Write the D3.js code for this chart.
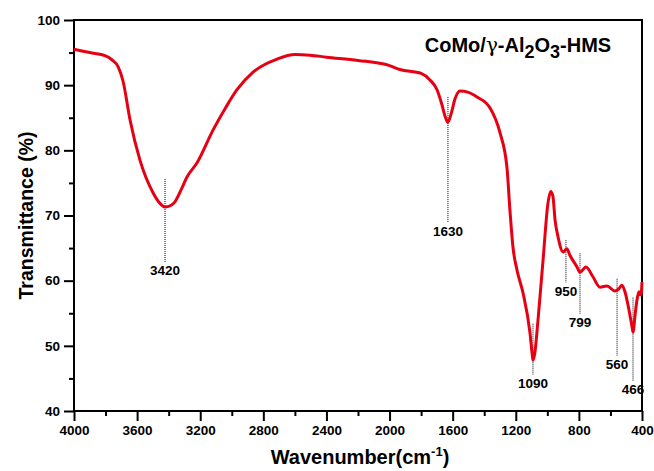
<!DOCTYPE html>
<html>
<head>
<meta charset="utf-8">
<script src="https://cdn.jsdelivr.net/npm/d3@7"></script>
<style>
  body { margin: 0; background: #fff; }
  text { font-family: "Liberation Sans", Arial, sans-serif; font-weight: bold; fill: #000; }
</style>
</head>
<body>
<div id="chart"></div>
<script>
// spectrum (wavenumber, transmittance)
const wavenumber = [4000, 3900, 3800, 3760, 3720, 3689, 3645, 3582, 3499, 3460, 3423, 3390, 3360, 3320, 3284, 3220, 3119, 3040, 2967, 2865, 2713, 2600, 2504, 2400, 2200, 2000, 1934, 1800, 1744, 1699, 1668, 1645, 1630, 1610, 1585, 1554, 1500, 1446, 1363, 1300, 1256, 1237, 1218, 1192, 1154, 1110, 1095, 1091, 1080, 1059, 1027, 996, 979, 965, 951, 932, 900, 876, 857, 812, 793, 755, 711, 666, 622, 571, 545, 527, 508, 489, 463, 457, 444, 432, 419, 406, 400];
const transmittance = [95.5, 95.0, 94.5, 93.9, 92.8, 90.6, 84.7, 78.5, 73.5, 72.0, 71.3, 71.5, 72.1, 74.0, 75.9, 78.1, 83.1, 86.5, 89.3, 92.0, 94.0, 94.7, 94.6, 94.3, 93.8, 93.0, 92.4, 91.8, 90.8, 89.3, 87.0, 85.0, 84.3, 85.6, 87.9, 89.1, 88.9, 88.2, 86.5, 82.7, 77.4, 70.8, 65.2, 61.6, 58.1, 52.0, 48.5, 47.8, 48.8, 54.0, 63.2, 71.9, 73.7, 73.0, 69.3, 66.7, 64.4, 64.9, 63.9, 62.1, 61.3, 62.1, 60.6, 59.0, 59.2, 58.4, 58.8, 59.3, 58.3, 56.3, 52.9, 52.1, 54.7, 57.0, 58.3, 57.8, 59.8];

// peak labels: where each dotted line is drawn, its top/bottom and the text
const peakLabels = ["3420", "1630", "1090", "950", "799", "560", "466"];
const peakX = [3423, 1630, 1091, 882, 793, 558, 457];
const peakTop = [75.6, 88.2, 53.4, 66.2, 64.2, 60.3, 57.4];
const peakBottom = [62.8, 68.9, 45.6, 59.7, 54.9, 48.5, 44.6];

const xTicks = [4000, 3600, 3200, 2800, 2400, 2000, 1600, 1200, 800, 400];
const yTicks = [40, 50, 60, 70, 80, 90, 100];

const width = 654, height = 471;
const margin = { left: 74, right: 12, top: 20, bottom: 60 };
const tickFont = "13.5px";

const svg = d3.select("#chart").append("svg")
    .attr("width", width)
    .attr("height", height);

const x = d3.scaleLinear()
    .domain([4000, 400])
    .range([margin.left, width - margin.right]);

const y = d3.scaleLinear()
    .domain([40, 100])
    .range([height - margin.bottom, margin.top]);

const data = wavenumber.map((w, i) => ({ w: w, t: transmittance[i] }));

// frame
svg.append("rect")
    .attr("x", x(4000))
    .attr("y", y(100))
    .attr("width", x(400) - x(4000))
    .attr("height", y(40) - y(100))
    .attr("fill", "none")
    .attr("stroke", "#000")
    .attr("stroke-width", 2);

// minor ticks
svg.append("g")
    .attr("transform", `translate(0,${y(40)})`)
    .call(d3.axisBottom(x).tickValues(d3.range(3800, 400, -400)).tickSize(5).tickFormat(""))
    .call(g => g.select(".domain").remove())
    .call(g => g.selectAll("line").attr("stroke-width", 2));

svg.append("g")
    .attr("transform", `translate(${x(4000)},0)`)
    .call(d3.axisLeft(y).tickValues(d3.range(45, 100, 10)).tickSize(5).tickFormat(""))
    .call(g => g.select(".domain").remove())
    .call(g => g.selectAll("line").attr("stroke-width", 2));

// major ticks
svg.append("g")
    .attr("transform", `translate(0,${y(40)})`)
    .call(d3.axisBottom(x).tickValues(xTicks).tickSize(10).tickPadding(4).tickFormat(d3.format("d")))
    .call(g => g.select(".domain").remove())
    .call(g => g.selectAll("line").attr("stroke-width", 2))
    .call(g => g.selectAll("text").style("font-size", tickFont).style("font-family", "Liberation Sans, Arial, sans-serif").style("font-weight", "bold"));

svg.append("g")
    .attr("transform", `translate(${x(4000)},0)`)
    .call(d3.axisLeft(y).tickValues(yTicks).tickSize(10).tickPadding(4))
    .call(g => g.select(".domain").remove())
    .call(g => g.selectAll("line").attr("stroke-width", 2))
    .call(g => g.selectAll("text").style("font-size", tickFont).style("font-family", "Liberation Sans, Arial, sans-serif").style("font-weight", "bold"));

// dotted peak markers
svg.selectAll(".peak")
    .data(peakLabels)
    .enter()
    .append("line")
    .attr("class", "peak")
    .attr("x1", (d, i) => x(peakX[i]))
    .attr("x2", (d, i) => x(peakX[i]))
    .attr("y1", (d, i) => y(peakTop[i]))
    .attr("y2", (d, i) => y(peakBottom[i]))
    .attr("stroke", "#000")
    .attr("stroke-width", 1)
    .attr("stroke-dasharray", "1,1");

svg.selectAll(".peakText")
    .data(peakLabels)
    .enter()
    .append("text")
    .attr("class", "peakText")
    .attr("x", (d, i) => x(peakX[i]))
    .attr("y", (d, i) => y(peakBottom[i]) + 13)
    .attr("text-anchor", "middle")
    .style("font-size", tickFont)
    .text(d => d);

// spectrum
const line = d3.line()
    .x(d => x(d.w))
    .y(d => y(d.t))
    .curve(d3.curveMonotoneX);

svg.append("path")
    .datum(data)
    .attr("fill", "none")
    .attr("stroke", "#e60012")
    .attr("stroke-width", 3)
    .attr("stroke-linejoin", "round")
    .attr("d", line);

// sample name
const title = svg.append("text")
    .attr("x", 518)
    .attr("y", 52)
    .attr("text-anchor", "middle")
    .style("font-size", "20px");
title.append("tspan").text("CoMo/");
title.append("tspan").style("font-weight", "normal").style("font-family", "DejaVu Serif, serif").text("γ");
title.append("tspan").text("-Al");
title.append("tspan").attr("dy", 6).style("font-size", "18px").text("2");
title.append("tspan").attr("dy", -6).text("O");
title.append("tspan").attr("dy", 6).style("font-size", "18px").text("3");
title.append("tspan").attr("dy", -6).text("-HMS");

// axis titles
svg.append("text")
    .attr("transform", `translate(33,${(y(40) + y(100)) / 2}) rotate(-90)`)
    .attr("text-anchor", "middle")
    .style("font-size", "19.5px")
    .text("Transmittance (%)");

const xt = svg.append("text")
    .attr("x", (x(4000) + x(400)) / 2 + 2)
    .attr("y", 464)
    .attr("text-anchor", "middle")
    .style("font-size", "20px");
xt.append("tspan").text("Wavenumber(cm");
xt.append("tspan").attr("dy", -8).style("font-size", "13px").text("-1");
xt.append("tspan").attr("dy", 8).text(")");
</script>
</body>
</html>
